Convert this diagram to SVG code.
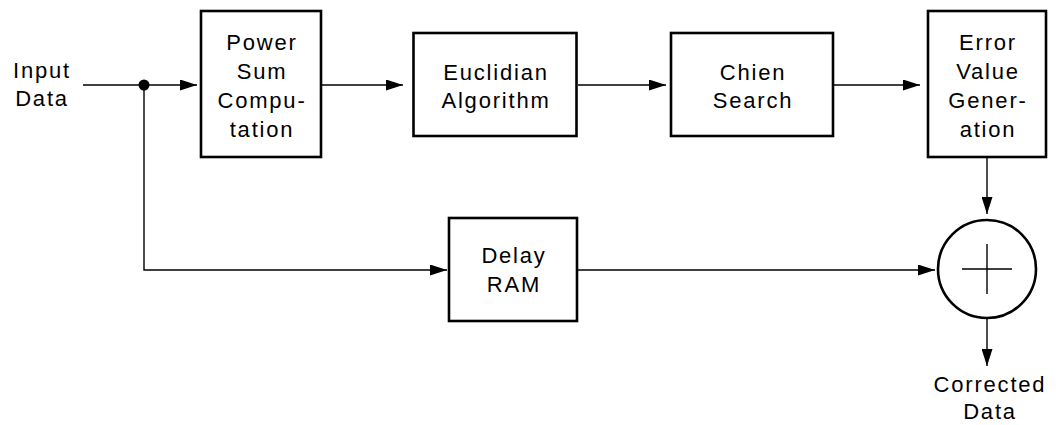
<svg xmlns="http://www.w3.org/2000/svg" width="1060" height="425" viewBox="0 0 1060 425">
<defs>
<marker id="ah" viewBox="0 0 17 11" refX="17" refY="5.5" markerWidth="17" markerHeight="11" markerUnits="userSpaceOnUse" orient="auto">
<path d="M0,0 L17,5.5 L0,11 Z" fill="#000"/>
</marker>
</defs>
<style>
.box{fill:#fff;stroke:#000;stroke-width:2.6}
.ln{fill:none;stroke:#000;stroke-width:1.4}
text{font-family:"Liberation Sans",Arial,Helvetica,sans-serif;font-size:22px;letter-spacing:1.8px;text-anchor:middle;fill:#000}
</style>
<rect width="1060" height="425" fill="#fff"/>
<g id="connectors">
<line class="ln" x1="83" y1="85" x2="197" y2="85" marker-end="url(#ah)"/>
<circle cx="144" cy="85" r="5.5" fill="#000"/>
<polyline class="ln" points="144,85 144,270 447,270" marker-end="url(#ah)"/>
<line class="ln" x1="322" y1="85" x2="403" y2="85" marker-end="url(#ah)"/>
<line class="ln" x1="578" y1="85" x2="666" y2="85" marker-end="url(#ah)"/>
<line class="ln" x1="834" y1="85" x2="920" y2="85" marker-end="url(#ah)"/>
<line class="ln" x1="987" y1="157" x2="987" y2="214" marker-end="url(#ah)"/>
<line class="ln" x1="577" y1="270" x2="935" y2="270" marker-end="url(#ah)"/>
<line class="ln" x1="987" y1="318" x2="987" y2="366" marker-end="url(#ah)"/>
</g>
<g id="input-label">
<text x="42" y="78">Input</text>
<text x="42" y="106">Data</text>
</g>
<g id="power-sum">
<rect class="box" x="201" y="11" width="120" height="146"/>
<text x="262" y="50">Power</text>
<text x="262" y="79">Sum</text>
<text x="262" y="108">Compu-</text>
<text x="262" y="137">tation</text>
</g>
<g id="euclidian">
<rect class="box" x="413.5" y="33" width="163" height="103"/>
<text x="496" y="80">Euclidian</text>
<text x="496" y="108">Algorithm</text>
</g>
<g id="chien">
<rect class="box" x="671" y="33" width="162" height="103"/>
<text x="753" y="80">Chien</text>
<text x="753" y="108">Search</text>
</g>
<g id="error-value">
<rect class="box" x="928" y="11" width="118" height="146"/>
<text x="988" y="50">Error</text>
<text x="988" y="79">Value</text>
<text x="988" y="108">Gener-</text>
<text x="988" y="137">ation</text>
</g>
<g id="delay-ram">
<rect class="box" x="449" y="218" width="128" height="103"/>
<text x="514" y="263">Delay</text>
<text x="514" y="292">RAM</text>
</g>
<g id="adder">
<circle cx="987" cy="269" r="49" fill="#fff" stroke="#000" stroke-width="2.6"/>
<line class="ln" x1="962" y1="269" x2="1012" y2="269"/>
<line class="ln" x1="987" y1="244" x2="987" y2="294"/>
</g>
<g id="output-label">
<text x="990" y="392">Corrected</text>
<text x="990" y="419">Data</text>
</g>
</svg>
